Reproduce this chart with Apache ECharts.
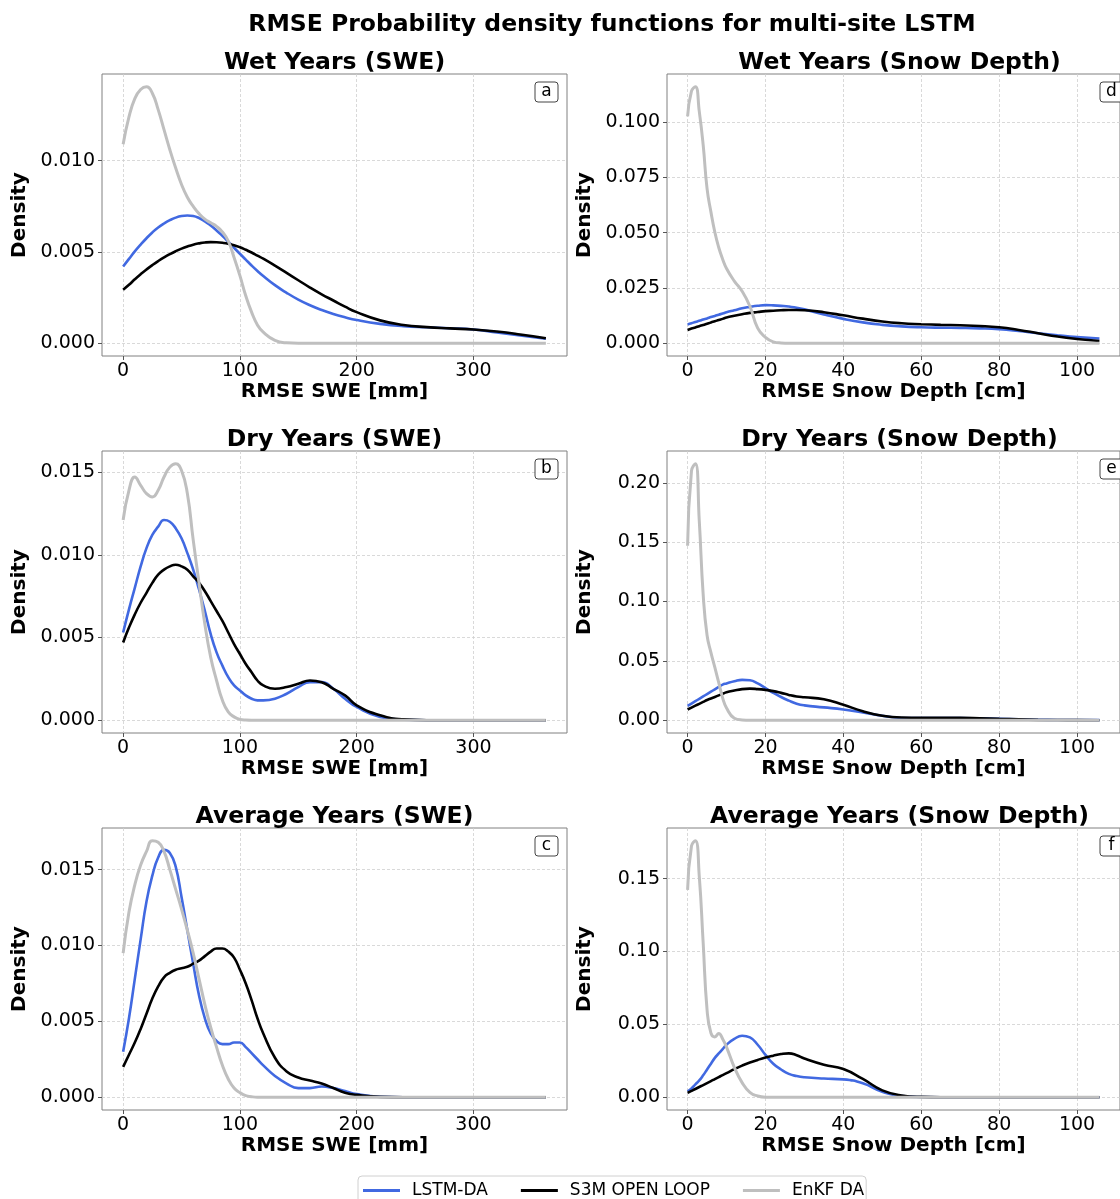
<!DOCTYPE html>
<html><head><meta charset="utf-8">
<script src="https://cdn.jsdelivr.net/npm/echarts@6/dist/echarts.min.js"></script>
<style>html,body{margin:0;padding:0;background:#fff}#c{width:1120px;height:1199px}</style>
</head><body><div id="c"></div>
<script>
// ---------------- DATA ----------------
const sweX = [0,5,10,15,20,25,30,35,40,45,50,55,60,65,70,75,80,85,90,95,100,105,110,115,120,130,140,150,160,170,180,190,200,220,240,260,280,300,320,340,362];
const sdX = [0,1,2,3,4,5,6,7,8,9,10,12,14,16,18,20,22,24,26,28,30,35,40,45,50,55,60,65,70,75,80,85,90,95,100,105.75];

// Wet years SWE (a)
const wetSweLstm = [0.0042,0.00462,0.00503,0.0054,0.00575,0.00607,0.00634,0.00656,0.00674,0.00688,0.00697,0.0070,0.00697,0.00686,0.00668,0.00645,0.00618,0.00588,0.00556,0.00523,0.0049,0.00458,0.00426,0.00396,0.00368,0.00318,0.00276,0.00239,0.00208,0.00182,0.0016,0.00142,0.00127,0.00106,0.00093,0.00087,0.00082,0.00075,0.00059,0.00042,0.00024];
const wetSweS3m = [0.00293,0.0032,0.0035,0.00378,0.00404,0.00428,0.0045,0.0047,0.00488,0.00504,0.00518,0.0053,0.0054,0.00547,0.00552,0.00554,0.00553,0.0055,0.00545,0.00537,0.00526,0.00512,0.00497,0.0048,0.00463,0.00425,0.00385,0.00345,0.00305,0.00268,0.00234,0.0020,0.0017,0.00125,0.0010,0.00088,0.00081,0.00075,0.00064,0.00048,0.00027];
const wetSweEnkf = [0.0109,0.0124,0.0134,0.0139,0.01405,0.0137,0.0128,0.0117,0.0106,0.0096,0.0087,0.0080,0.0075,0.0071,0.0068,0.0066,0.0064,0.0061,0.0056,0.0047,0.0037,0.0026,0.0017,0.0010,0.0006,0.00015,0.00002,0,0,0,0,0,0,0,0,0,0,0,0,0,0];

// Dry years SWE (b)
const drySweLstm = [0.0053,0.0067,0.0080,0.0093,0.0104,0.0112,0.0117,0.0121,0.0120,0.0116,0.0110,0.0101,0.0091,0.0079,0.0066,0.0052,0.0041,0.0033,0.0026,0.0021,0.0018,0.0015,0.0013,0.0012,0.0012,0.0013,0.0016,0.0020,0.0023,0.0023,0.0019,0.0013,0.0008,0.0002,0.00003,0,0,0,0,0,0];
const drySweS3m = [0.0047,0.0056,0.0064,0.0071,0.0077,0.0083,0.0088,0.0091,0.0093,0.0094,0.0093,0.0091,0.0087,0.0083,0.0078,0.0072,0.0066,0.0060,0.0053,0.0046,0.0040,0.0034,0.0029,0.0024,0.0021,0.0019,0.0020,0.0022,0.0024,0.0023,0.0019,0.0015,0.0009,0.0003,0.00005,0,0,0,0,0,0];
const drySweEnkf = [0.0121,0.0139,0.0147,0.0142,0.0137,0.0135,0.0139,0.0147,0.0153,0.0155,0.0151,0.0137,0.0109,0.0083,0.0058,0.0038,0.0024,0.0012,0.0005,0.0002,0.00005,0.00001,0,0,0,0,0,0,0,0,0,0,0,0,0,0,0,0,0,0,0];

// Average years SWE (c)
const avgSweLstm = [0.0030,0.0052,0.0078,0.0104,0.0129,0.0146,0.0158,0.0163,0.0161,0.0152,0.0132,0.0110,0.0088,0.0067,0.0052,0.0042,0.0037,0.0035,0.0035,0.0036,0.0036,0.0033,0.0029,0.0025,0.0021,0.0014,0.0009,0.0006,0.0006,0.0007,0.0006,0.0004,0.0002,0.00003,0,0,0,0,0,0,0];
const avgSweS3m = [0.0020,0.0028,0.0036,0.0045,0.0055,0.0065,0.0073,0.0079,0.0082,0.0084,0.0085,0.0086,0.0088,0.0090,0.0093,0.0096,0.0098,0.0098,0.0096,0.0092,0.0084,0.0075,0.0064,0.0052,0.0042,0.0026,0.0017,0.0013,0.0011,0.0009,0.0006,0.0003,0.00015,0.00002,0,0,0,0,0,0,0];
const avgSweEnkf = [0.0095,0.0122,0.0140,0.0153,0.0162,0.0169,0.0168,0.0162,0.0150,0.0137,0.0124,0.0110,0.0095,0.0078,0.0061,0.0046,0.0033,0.0021,0.0012,0.0006,0.0003,0.0001,0.00003,0,0,0,0,0,0,0,0,0,0,0,0,0,0,0,0,0,0];

// Wet years snow depth (d)
const wetSdLstm = [0.0085,0.0090,0.0096,0.0101,0.0107,0.0112,0.0118,0.0123,0.0129,0.0134,0.0140,0.0149,0.0158,0.0164,0.0169,0.0172,0.0171,0.0169,0.0166,0.0160,0.0153,0.0130,0.0110,0.0094,0.0083,0.0076,0.0072,0.0070,0.0069,0.0067,0.0063,0.0055,0.0045,0.0036,0.0028,0.0021];
const wetSdS3m = [0.0060,0.0066,0.0071,0.0077,0.0082,0.0088,0.0094,0.0099,0.0105,0.0110,0.0116,0.0124,0.0131,0.0137,0.0141,0.0145,0.0147,0.0149,0.0150,0.0150,0.0149,0.0140,0.0126,0.0111,0.0098,0.0090,0.0086,0.0083,0.0081,0.0078,0.0072,0.0060,0.0045,0.0030,0.0019,0.0010];
const wetSdEnkf = [0.1026,0.1140,0.1160,0.1049,0.0897,0.0699,0.0593,0.0502,0.0433,0.0380,0.0338,0.0281,0.0235,0.0167,0.0068,0.0026,0.0006,0.0001,0,0,0,0,0,0,0,0,0,0,0,0,0,0,0,0,0,0];

// Dry years snow depth (e)
const drySdLstm = [0.012,0.014,0.016,0.018,0.020,0.022,0.024,0.026,0.028,0.030,0.031,0.0328,0.0340,0.0336,0.031,0.027,0.023,0.0195,0.0165,0.0139,0.0125,0.0108,0.0090,0.0065,0.0037,0.0019,0.0017,0.0017,0.0017,0.0015,0.0012,0.0008,0.0004,0.0002,0.0001,0.00005];
const drySdS3m = [0.0090,0.0106,0.0122,0.0138,0.0154,0.0170,0.0183,0.0196,0.0209,0.0222,0.0235,0.0250,0.0262,0.0266,0.0262,0.0255,0.0245,0.0230,0.0213,0.0200,0.0193,0.0177,0.0130,0.0075,0.0037,0.0022,0.0020,0.0021,0.0020,0.0016,0.0011,0.0007,0.0003,0.0001,0.00005,0];
const drySdEnkf = [0.147,0.210,0.216,0.168,0.106,0.0715,0.057,0.0444,0.0316,0.0188,0.0103,0.0017,0.0002,0,0,0,0,0,0,0,0,0,0,0,0,0,0,0,0,0,0,0,0,0,0,0];

// Average years snow depth (f)
const avgSdLstm = [0.0040,0.0060,0.0088,0.0115,0.0150,0.0190,0.0230,0.0270,0.0300,0.0330,0.0360,0.0400,0.0422,0.0410,0.0360,0.0290,0.0230,0.0190,0.0160,0.0145,0.0137,0.0128,0.0122,0.0095,0.0037,0.0007,0.0001,0,0,0,0,0,0,0,0,0];
const avgSdS3m = [0.0030,0.0043,0.0056,0.0070,0.0083,0.0097,0.0110,0.0124,0.0138,0.0152,0.0165,0.0193,0.0217,0.0238,0.0256,0.0272,0.0285,0.0296,0.0301,0.0288,0.0265,0.0223,0.0193,0.0125,0.0047,0.0012,0.0002,0,0,0,0,0,0,0,0,0];
const avgSdEnkf = [0.1423,0.1725,0.176,0.1516,0.106,0.060,0.044,0.0414,0.0437,0.040,0.0344,0.0205,0.010,0.0033,0.0008,0,0,0,0,0,0,0,0,0,0,0,0,0,0,0,0,0,0,0,0,0];

// Tick labels
const sweTicks = [0,100,200,300];
const sdTicks = [0,20,40,60,80,100];
const ySweWetTicks = [0,0.005,0.010];
const ySweDryTicks = [0,0.005,0.010,0.015];
const ySweAvgTicks = [0,0.005,0.010,0.015];
const ySdWetTicks = [0,0.025,0.050,0.075,0.100];
const ySdDryTicks = [0,0.05,0.10,0.15,0.20];
const ySdAvgTicks = [0,0.05,0.10,0.15];

const seriesNames = ['LSTM-DA','S3M OPEN LOOP','EnKF DA'];
const seriesColors = ['#4169e1','#000000','#bfbfbf'];
const panelTitles = ['Wet Years (SWE)','Dry Years (SWE)','Average Years (SWE)','Wet Years (Snow Depth)','Dry Years (Snow Depth)','Average Years (Snow Depth)'];
const panelLetters = ['a','b','c','d','e','f'];
const mainTitle = 'RMSE Probability density functions for multi-site LSTM';

// ---------------- LAYOUT ----------------
const FONT = 'DejaVu Sans';
const colLeft = [102, 667];
const plotW = 465;
const rowTop = [74, 451, 828];
const plotH = 282;

const panels = [
  {col:0,row:0,x:sweX,ys:[wetSweLstm,wetSweS3m,wetSweEnkf],xt:sweTicks,yt:ySweWetTicks,yd:3,xn:'RMSE SWE [mm]'},
  {col:0,row:1,x:sweX,ys:[drySweLstm,drySweS3m,drySweEnkf],xt:sweTicks,yt:ySweDryTicks,yd:3,xn:'RMSE SWE [mm]'},
  {col:0,row:2,x:sweX,ys:[avgSweLstm,avgSweS3m,avgSweEnkf],xt:sweTicks,yt:ySweAvgTicks,yd:3,xn:'RMSE SWE [mm]'},
  {col:1,row:0,x:sdX,ys:[wetSdLstm,wetSdS3m,wetSdEnkf],xt:sdTicks,yt:ySdWetTicks,yd:3,xn:'RMSE Snow Depth [cm]'},
  {col:1,row:1,x:sdX,ys:[drySdLstm,drySdS3m,drySdEnkf],xt:sdTicks,yt:ySdDryTicks,yd:2,xn:'RMSE Snow Depth [cm]'},
  {col:1,row:2,x:sdX,ys:[avgSdLstm,avgSdS3m,avgSdEnkf],xt:sdTicks,yt:ySdAvgTicks,yd:2,xn:'RMSE Snow Depth [cm]'}
];

const grids = [], xAxes = [], yAxes = [], series = [], graphics = [];
const splitStyle = {color:'#cfcfcf', type:[3,2], width:0.8};

panels.forEach((p, i) => {
  const left = colLeft[p.col], top = rowTop[p.row];
  grids.push({left:left, top:top, width:plotW, height:plotH, show:true, borderColor:'#808080', borderWidth:1, backgroundColor:'transparent'});
  const xmin = Math.min(...p.x), xmax = Math.max(...p.x);
  const all = [].concat(...p.ys);
  const ymin = Math.min(...all), ymax = Math.max(...all);
  const xr = xmax - xmin, yr = ymax - ymin;
  xAxes.push({
    type:'value', gridIndex:i, min:xmin - 0.05*xr, max:xmax + 0.05*xr,
    axisLine:{show:false, onZero:false},
    axisTick:{show:true, length:4, customValues:p.xt, lineStyle:{color:'#555'}},
    axisLabel:{customValues:p.xt, fontSize:19, color:'#000', fontFamily:FONT, margin:6, formatter:v=>String(Math.round(v))},
    splitLine:{show:true, lineStyle:splitStyle},
    name:p.xn, nameLocation:'middle', nameGap:26,
    nameTextStyle:{fontSize:20, fontWeight:'bold', color:'#000', fontFamily:FONT}
  });
  yAxes.push({
    type:'value', gridIndex:i, min:ymin - 0.05*yr, max:ymax + 0.05*yr,
    axisLine:{show:false, onZero:false},
    axisTick:{show:true, length:4, customValues:p.yt, lineStyle:{color:'#555'}},
    axisLabel:{customValues:p.yt, fontSize:19, color:'#000', fontFamily:FONT, margin:7, formatter:v=>v.toFixed(p.yd)},
    splitLine:{show:true, lineStyle:splitStyle},
    name:'Density', nameLocation:'middle', nameGap:72, nameRotate:90,
    nameTextStyle:{fontSize:20, fontWeight:'bold', color:'#000', fontFamily:FONT}
  });
  p.ys.forEach((arr, k) => {
    series.push({
      type:'line', name:seriesNames[k], xAxisIndex:i, yAxisIndex:i,
      data:p.x.map((xv, j) => [xv, arr[j]]),
      showSymbol:false, symbol:'none', smooth:0.5, z:2+k,
      color:seriesColors[k],
      itemStyle:{color:seriesColors[k]},
      lineStyle:{color:seriesColors[k], width:k===2?3:2.6}
    });
  });
  // subplot title
  graphics.push({type:'text', x:left + plotW/2, y:top - 11, z:50,
    style:{text:panelTitles[i], fontSize:23.5, fontWeight:'bold', fontFamily:FONT, fill:'#000', align:'center', verticalAlign:'middle'}});
  // letter box
  const bx = left + plotW - 9 - 23, by = top + 8;
  graphics.push({type:'rect', x:bx, y:by, z:60, shape:{x:0, y:0, width:23, height:20, r:3},
    style:{fill:'rgba(255,255,255,0.9)', stroke:'#444', lineWidth:1}});
  graphics.push({type:'text', x:bx + 11.5, y:by + 10, z:61,
    style:{text:panelLetters[i], fontSize:17, fontFamily:FONT, fill:'#000', align:'center', verticalAlign:'middle'}});
});

graphics.push({type:'text', x:612, y:25, z:50,
  style:{text:mainTitle, fontSize:23.5, fontWeight:'bold', fontFamily:FONT, fill:'#000', align:'center', verticalAlign:'middle'}});

const chart = echarts.init(document.getElementById('c'), null, {renderer:'canvas'});
chart.setOption({
  animation:false,
  backgroundColor:'#fff',
  textStyle:{fontFamily:FONT},
  grid:grids, xAxis:xAxes, yAxis:yAxes, series:series,
  legend:{
    left:358, top:1176, data:seriesNames, icon:'rect', itemWidth:37, itemHeight:3, itemGap:33,
    textStyle:{fontSize:17, color:'#000', fontFamily:FONT, padding:[0,0,0,7]},
    borderColor:'#d0d0d0', borderWidth:1, borderRadius:4, padding:[6,2,14,5],
    backgroundColor:'#fff'
  },
  graphic:graphics
});
</script></body></html>
